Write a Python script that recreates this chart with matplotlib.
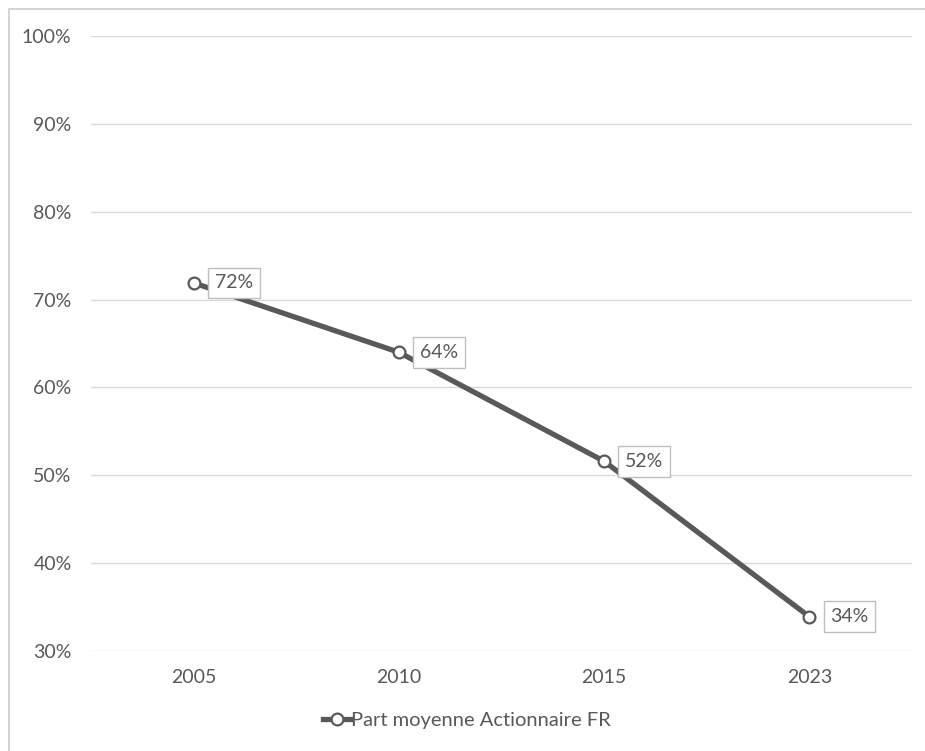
import matplotlib
matplotlib.use("Agg")
import matplotlib.pyplot as plt
from matplotlib.patches import Rectangle
from matplotlib.lines import Line2D
from matplotlib.ticker import FuncFormatter

years = ["2005", "2010", "2015", "2023"]
share = [0.719, 0.640, 0.516, 0.339]
series_name = "Part moyenne Actionnaire FR"
y_ticks = [0.3, 0.4, 0.5, 0.6, 0.7, 0.8, 0.9, 1.0]

W, H = 925, 751
plt.rcParams["font.family"] = ["Lato", "DejaVu Sans"]
text_color = "#595959"
line_color = "#595959"
grid_color = "#D9D9D9"

fig = plt.figure(figsize=(W / 100, H / 100), dpi=100)
fig.patch.set_facecolor("white")

# outer chart frame
fig.patches.append(Rectangle((9 / W, -0.05), 1.2, (H - 9) / H + 0.05,
                             transform=fig.transFigure, fill=False,
                             edgecolor="#D0D0D0", linewidth=1.3, zorder=0))

ax = fig.add_axes([91 / W, (H - 651) / H, (912 - 91) / W, (651 - 36) / H])
x = list(range(len(years)))

ax.plot(x, share, color=line_color, linewidth=3.8, solid_capstyle="round",
        marker="o", markersize=8.5, markerfacecolor="white",
        markeredgecolor=line_color, markeredgewidth=1.6, zorder=3)

for xi, v in zip(x, share):
    ax.annotate(f"{v:.0%}", (xi, v), xytext=(21, 0), textcoords="offset pixels",
                ha="left", va="center", fontsize=14, color=text_color, zorder=4,
                bbox=dict(boxstyle="square,pad=0.35", facecolor="white",
                          edgecolor="#BFBFBF", linewidth=1.0))

ax.set_xlim(-0.5, len(years) - 0.5)
ax.set_ylim(0.3, 1.0)
ax.set_xticks(x)
ax.set_xticklabels(years)
ax.set_yticks(y_ticks)
ax.yaxis.set_major_formatter(FuncFormatter(lambda v, _: f"{v:.0%}"))
ax.tick_params(axis="both", length=0, labelsize=14, colors=text_color)
ax.tick_params(axis="y", pad=14)
ax.tick_params(axis="x", pad=13)
ax.grid(axis="y", color=grid_color, linewidth=1.0)
ax.set_axisbelow(True)
for s in ax.spines.values():
    s.set_visible(False)

handle = Line2D([], [], color=line_color, linewidth=3.8, marker="o", markersize=8.5,
                markerfacecolor="white", markeredgecolor=line_color, markeredgewidth=1.6)
fig.legend([handle], [series_name], loc="center", bbox_to_anchor=(467 / W, (H - 720) / H),
           frameon=False, fontsize=14.5, handlelength=1.35, handletextpad=0.05,
           labelcolor=text_color)

fig.savefig("out.png", dpi=100)
